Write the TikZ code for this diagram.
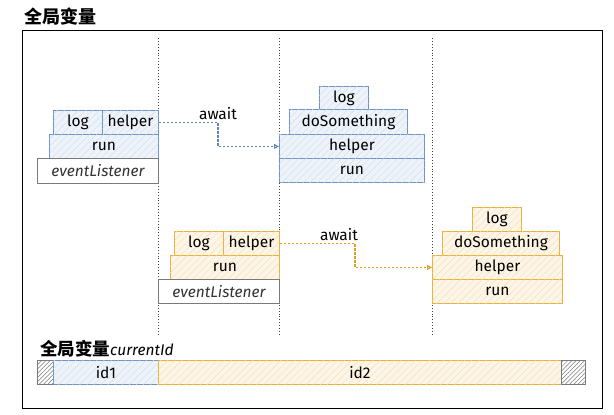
\documentclass[tikz,border=0pt]{standalone}
\usepackage{fontspec}
\setmainfont{Fira Sans}
\newfontfamily\cjk{Noto Sans CJK SC}
\usetikzlibrary{patterns.meta,arrows.meta}
\definecolor{bstroke}{HTML}{6F93C4}
\definecolor{bfill}{HTML}{EEF3FA}
\definecolor{bhatch}{HTML}{CFDCEE}
\definecolor{ostroke}{HTML}{E8B23A}
\definecolor{ofill}{HTML}{FDF6E8}
\definecolor{ohatch}{HTML}{F4DDB0}
\definecolor{gstroke}{HTML}{7A7A7A}
\definecolor{barrowc}{HTML}{5F86BC}
\definecolor{oarrowc}{HTML}{DDA020}
\tikzset{
  cell/.style={draw, line width=0.9pt, inner sep=0pt, anchor=north west, font=\fontsize{15.5}{15.5}\selectfont},
  bcell/.style={cell, draw=bstroke, fill=bfill, postaction={pattern={Lines[angle=45,distance=5pt,line width=0.4pt]}, pattern color=bhatch}},
  ocell/.style={cell, draw=ostroke, fill=ofill, postaction={pattern={Lines[angle=45,distance=5pt,line width=0.4pt]}, pattern color=ohatch}},
  gcell/.style={cell, draw=gstroke, fill=white, font=\fontsize{15.5}{15.5}\selectfont\itshape, text=black!80},
  hcell/.style={draw=gstroke, line width=0.8pt, inner sep=0pt, anchor=north west, fill=white, postaction={pattern={Lines[angle=45,distance=3pt,line width=0.5pt]}, pattern color=gstroke}},
  vline/.style={dotted, line width=0.9pt, draw=black!75},
  barrow/.style={dash pattern=on 2.5pt off 1.5pt, line width=1.1pt, draw=barrowc, -{Triangle[open,length=5pt,width=5pt]}},
  oarrow/.style={dash pattern=on 2.5pt off 1.5pt, line width=1.1pt, draw=oarrowc, -{Triangle[open,length=5pt,width=5pt]}},
  lbl/.style={font=\fontsize{15.5}{15.5}\selectfont, inner sep=1pt},
}
\begin{document}
\begin{tikzpicture}[x=1pt,y=-1pt]
\useasboundingbox (0,0) rectangle (614,415);
% title
\node[anchor=west, font=\cjk\bfseries\fontsize{18}{18}\selectfont, inner sep=0pt] (title) at (24,17) {全局变量};
% frame
\node[draw=black, line width=1.2pt, inner sep=0pt, anchor=north west, minimum width=580pt, minimum height=378pt] (frame) at (22,30) {};
% dotted lines
\coordinate (v1t) at (158,38); \coordinate (v1b) at (158,336);
\coordinate (v2t) at (279,38); \coordinate (v2b) at (279,336);
\coordinate (v3t) at (432,38); \coordinate (v3b) at (432,336);
\draw[vline] (v1t) -- (v1b);
\draw[vline] (v2t) -- (v2b);
\draw[vline] (v3t) -- (v3b);
% blue stack 1
\node[bcell, minimum width=49pt, minimum height=24pt] (logA) at (53,110) {log};
\node[bcell, minimum width=56pt, minimum height=24pt] (helpA) at (102,110) {helper};
\node[bcell, minimum width=109pt, minimum height=24pt] (runA) at (49,134) {run};
\node[gcell, minimum width=121pt, minimum height=25pt] (evA) at (37,158) {eventListener};
% blue stack 2
\node[bcell, minimum width=49pt, minimum height=23pt] (logB) at (319,86) {log};
\node[bcell, minimum width=118pt, minimum height=25pt] (doB) at (289,109) {doSomething};
\node[bcell, minimum width=145pt, minimum height=24pt] (helpB) at (279,134) {helper};
\node[bcell, minimum width=145pt, minimum height=24pt] (runB) at (279,158) {run};
% orange stack 1
\node[ocell, minimum width=49pt, minimum height=24pt] (logC) at (174,231) {log};
\node[ocell, minimum width=56pt, minimum height=24pt] (helpC) at (223,231) {helper};
\node[ocell, minimum width=109pt, minimum height=24pt] (runC) at (170,255) {run};
\node[gcell, minimum width=121pt, minimum height=24pt] (evC) at (158,279) {eventListener};
% orange stack 2
\node[ocell, minimum width=49pt, minimum height=24pt] (logD) at (472,207) {log};
\node[ocell, minimum width=117pt, minimum height=24pt] (doD) at (442,231) {doSomething};
\node[ocell, minimum width=130pt, minimum height=24pt] (helpD) at (432,255) {helper};
\node[ocell, minimum width=130pt, minimum height=24pt] (runD) at (432,279) {run};
% arrows
\coordinate (k1) at (218,0);
\draw[barrow] (helpA.east) -- (helpA.east -| k1) |- (helpB.west);
\node[lbl] (aw1) at (218,114) {await};
\coordinate (k2) at (355,0);
\draw[oarrow] (helpC.east) -- (helpC.east -| k2) |- (helpD.west);
\node[lbl] (aw2) at (339,235) {await};
% bottom bar
\node[anchor=west, inner sep=0pt] (curlabel) at (40,349) {{\cjk\bfseries\fontsize{17.5}{17.5}\selectfont 全局变量}{\fontsize{15.5}{15.5}\selectfont\itshape currentId}};
\node[hcell, minimum width=16pt, minimum height=24pt] (hl) at (37,360) {};
\node[bcell, minimum width=105pt, minimum height=24pt] (id1) at (53,360) {id1};
\node[ocell, minimum width=403pt, minimum height=24pt] (id2) at (158,360) {id2};
\node[hcell, minimum width=24pt, minimum height=24pt] (hr) at (561,360) {};
\end{tikzpicture}
\end{document}
